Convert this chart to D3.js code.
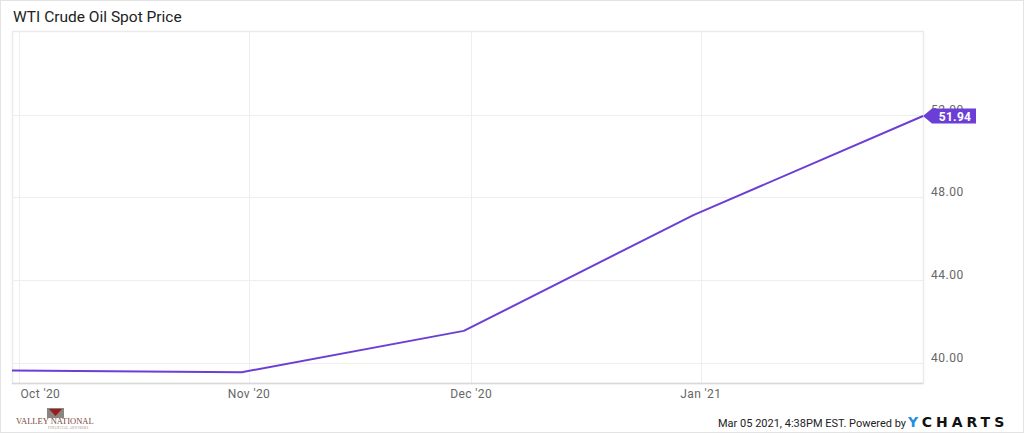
<!DOCTYPE html>
<html>
<head>
<meta charset="utf-8">
<script src="https://cdn.jsdelivr.net/npm/d3@7"></script>
<style>
  html, body { margin: 0; padding: 0; background: #fff; }
  svg { display: block; font-family: Roboto, "Noto Sans", sans-serif; }
</style>
</head>
<body>
<div id="chart"></div>
<script>
// monthly spot price points (end of month)
var DATES = ["2020-09-30", "2020-10-31", "2020-11-30", "2020-12-31", "2021-01-31"];
var PRICES = [39.63, 39.55, 41.55, 47.15, 51.94];
// axis ticks
var Y_TICKS = [40, 44, 48, 52];
var X_TICKS = ["2020-10-01", "2020-11-01", "2020-12-01", "2021-01-01"];
var TITLE = "WTI Crude Oil Spot Price";
var FOOTER = "Mar 05 2021, 4:38PM EST. Powered by";

function drawChart() {
    var W = 1024, H = 433;
    var plot = { left: 12, right: 923, top: 31, bottom: 383 };
    var parse = d3.timeParse("%Y-%m-%d");
    var data = DATES.map(function (d, i) { return { date: parse(d), price: PRICES[i] }; });

    var svg = d3.select("#chart").append("svg")
        .attr("width", W).attr("height", H);

    // card border
    svg.append("rect")
        .attr("x", 0.5).attr("y", 0.5)
        .attr("width", W - 1).attr("height", H - 1)
        .attr("fill", "#fff").attr("stroke", "#e3e3e3");

    // title
    svg.append("text")
        .attr("x", 13).attr("y", 22)
        .attr("font-size", "15.5px").attr("fill", "#222")
        .text(TITLE);

    var x = d3.scaleTime()
        .domain(d3.extent(data, function (d) { return d.date; }))
        .range([plot.left, plot.right]);
    var y = d3.scaleLinear()
        .domain([39.03, 56.05])
        .range([plot.bottom, plot.top]);

    // plot frame
    svg.append("rect")
        .attr("x", plot.left + 0.5).attr("y", plot.top + 0.5)
        .attr("width", plot.right - plot.left).attr("height", plot.bottom - plot.top)
        .attr("fill", "none").attr("stroke", "#ebebeb").attr("stroke-width", 1.5);

    // vertical grid
    var xt = X_TICKS.map(parse);
    svg.append("g").selectAll("line").data(xt).enter().append("line")
        .attr("x1", function (d) { return Math.round(x(d)) + 0.5; })
        .attr("x2", function (d) { return Math.round(x(d)) + 0.5; })
        .attr("y1", plot.top).attr("y2", plot.bottom)
        .attr("stroke", "#eeeeee");

    // horizontal grid
    svg.append("g").selectAll("line").data(Y_TICKS).enter().append("line")
        .attr("x1", plot.left).attr("x2", plot.right)
        .attr("y1", function (d) { return Math.round(y(d)) + 0.5; })
        .attr("y2", function (d) { return Math.round(y(d)) + 0.5; })
        .attr("stroke", "#eeeeee");

    // bottom axis line
    svg.append("line")
        .attr("x1", plot.left).attr("x2", plot.right)
        .attr("y1", plot.bottom + 0.5).attr("y2", plot.bottom + 0.5)
        .attr("stroke", "#d9d9d9").attr("stroke-width", 1.5);

    // y labels on the right
    var fmtY = d3.format(".2f");
    svg.append("g").selectAll("text").data(Y_TICKS).enter().append("text")
        .attr("x", plot.right + 8)
        .attr("y", function (d) { return y(d) - 1; })
        .attr("font-size", "12px").attr("fill", "#666")
        .attr("letter-spacing", "0.5px")
        .text(fmtY);

    // x labels
    var fmtX = d3.timeFormat("%b '%y");
    svg.append("g").selectAll("text").data(xt).enter().append("text")
        .attr("x", function (d, i) { return i === 0 ? x(d) + 1 : x(d); })
        .attr("y", plot.bottom + 15)
        .attr("text-anchor", function (d, i) { return i === 0 ? "start" : "middle"; })
        .attr("font-size", "12px").attr("fill", "#666")
        .attr("letter-spacing", "0.4px")
        .text(fmtX);

    // price line
    var line = d3.line()
        .x(function (d) { return x(d.date); })
        .y(function (d) { return y(d.price); });
    svg.append("path")
        .datum(data)
        .attr("d", line)
        .attr("fill", "none")
        .attr("stroke", "#6b3fd6")
        .attr("stroke-width", 2)
        .attr("stroke-linejoin", "round");

    // last value tag
    var last = data[data.length - 1];
    var tx = x(last.date), ty = y(last.price);
    svg.append("path")
        .attr("d", "M" + tx + "," + ty +
            "L" + (tx + 9) + "," + (ty - 7.5) +
            "L" + (tx + 53) + "," + (ty - 7.5) +
            "L" + (tx + 53) + "," + (ty + 7.5) +
            "L" + (tx + 9) + "," + (ty + 7.5) + "Z")
        .attr("fill", "#6b3fd6");
    svg.append("text")
        .attr("x", tx + 32).attr("y", ty + 4.5)
        .attr("text-anchor", "middle")
        .attr("font-size", "12px").attr("font-weight", "bold")
        .attr("fill", "#fff").attr("letter-spacing", "0.3px")
        .text(fmtY(last.price));

    // footer
    svg.append("text")
        .attr("x", 906).attr("y", 427)
        .attr("text-anchor", "end")
        .attr("font-size", "11px").attr("fill", "#222")
        .text(FOOTER);
    var logo = svg.append("text")
        .attr("x", 908).attr("y", 427)
        .attr("font-size", "14px").attr("font-weight", "900")
        .attr("letter-spacing", "4px")
        .attr("font-family", "'DejaVu Sans', sans-serif");
    logo.append("tspan").attr("fill", "#1f8fe0").text("Y");
    logo.append("tspan").attr("fill", "#111").text("CHARTS");

    // valley national mark
    svg.append("rect")
        .attr("x", 47).attr("y", 408).attr("width", 17).attr("height", 10)
        .attr("fill", "#8a8580");
    svg.append("path")
        .attr("d", "M49,409L62,409L55.5,416Z")
        .attr("fill", "#9b1c1c");
    svg.append("text")
        .attr("x", 16).attr("y", 424)
        .attr("font-size", "8.5px").attr("fill", "#7a4a40")
        .attr("font-family", "'Liberation Serif', serif")
        .text("VALLEY NATIONAL");
    svg.append("text")
        .attr("x", 48).attr("y", 428.5)
        .attr("font-size", "3px").attr("fill", "#9a7a70")
        .attr("letter-spacing", "0.5px")
        .attr("font-family", "'Liberation Serif', serif")
        .text("FINANCIAL ADVISORS");
}

window.onload = drawChart;
</script>
</body>
</html>
